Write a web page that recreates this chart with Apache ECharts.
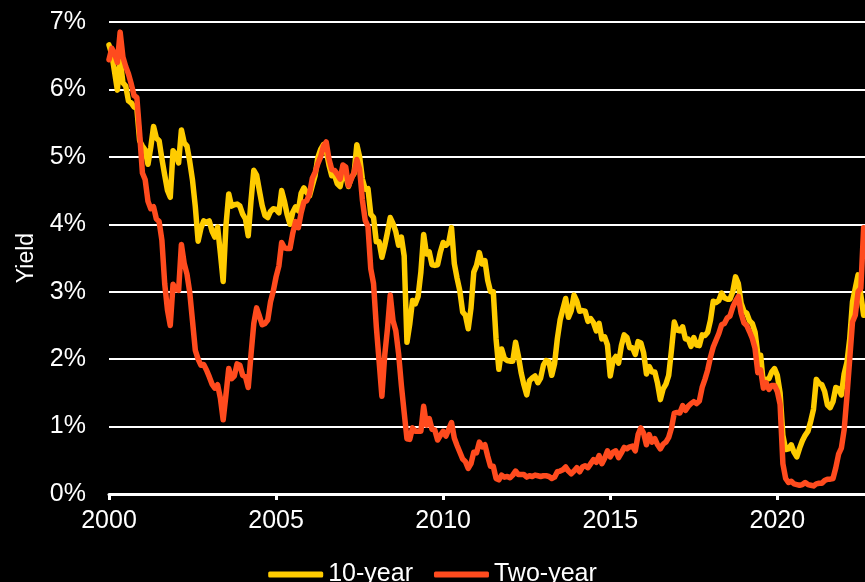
<!DOCTYPE html>
<html>
<head>
<meta charset="utf-8">
<title>Yield</title>
<script src="https://cdn.jsdelivr.net/npm/echarts@6.0.0/dist/echarts.min.js"></script>
<style>
  html, body { margin: 0; padding: 0; background: #000; }
  #main { width: 865px; height: 582px; }
</style>
</head>
<body>
<div id="main"></div>
<script>
// monthly yields (%), starting Jan 2000
var startYear = 2000;
var yearTicks = [2000, 2005, 2010, 2015, 2020];
var seriesNames = ['10-year', 'Two-year'];

var tenYear = [
  6.66, 6.52, 6.26, 5.99, 6.44, 6.10, 6.05, 5.83, 5.80, 5.74, 5.72, 5.24,
  5.16, 5.10, 4.89, 5.14, 5.45, 5.28, 5.24, 4.97, 4.73, 4.50, 4.40, 5.09,
  5.04, 4.91, 5.40, 5.21, 5.16, 4.93, 4.65, 4.26, 3.75, 3.94, 4.05, 4.03,
  4.05, 3.90, 3.81, 3.96, 3.57, 3.15, 3.98, 4.45, 4.27, 4.29, 4.30, 4.27,
  4.15, 4.08, 3.83, 4.35, 4.80, 4.73, 4.50, 4.28, 4.13, 4.10, 4.19, 4.23,
  4.22, 4.17, 4.50, 4.34, 4.14, 4.00, 4.18, 4.26, 4.20, 4.46, 4.54, 4.47,
  4.42, 4.57, 4.72, 4.99, 5.11, 5.18, 5.09, 4.88, 4.72, 4.73, 4.60, 4.56,
  4.76, 4.72, 4.56, 4.69, 4.75, 5.18, 5.00, 4.67, 4.52, 4.53, 4.15, 4.10,
  3.74, 3.74, 3.51, 3.68, 3.88, 4.10, 4.01, 3.89, 3.69, 3.81, 3.53, 2.25,
  2.52, 2.87, 2.82, 2.93, 3.29, 3.85, 3.56, 3.59, 3.40, 3.39, 3.40, 3.59,
  3.73, 3.69, 3.73, 3.95, 3.42, 3.20, 3.01, 2.70, 2.65, 2.45, 2.76, 3.29,
  3.39, 3.58, 3.41, 3.46, 3.17, 3.00, 3.00, 2.30, 1.85, 2.15, 2.01, 1.98,
  1.97, 1.97, 2.25, 2.05, 1.80, 1.62, 1.47, 1.68, 1.72, 1.75, 1.65, 1.72,
  1.91, 1.98, 1.96, 1.76, 1.93, 2.30, 2.58, 2.74, 2.90, 2.62, 2.72, 2.95,
  2.86, 2.71, 2.72, 2.71, 2.56, 2.60, 2.54, 2.42, 2.53, 2.30, 2.33, 2.21,
  1.75, 1.98, 2.04, 1.94, 2.20, 2.36, 2.32, 2.17, 2.17, 2.07, 2.26, 2.24,
  2.09, 1.78, 1.89, 1.81, 1.81, 1.64, 1.40, 1.56, 1.63, 1.76, 2.14, 2.55,
  2.43, 2.42, 2.48, 2.30, 2.30, 2.19, 2.32, 2.21, 2.20, 2.36, 2.35, 2.40,
  2.58, 2.86, 2.84, 2.87, 2.98, 2.91, 2.89, 2.89, 3.00, 3.22, 3.12, 2.83,
  2.71, 2.68, 2.57, 2.53, 2.40, 2.07, 2.06, 1.63, 1.70, 1.71, 1.81, 1.86,
  1.76, 1.50, 0.87, 0.66, 0.67, 0.73, 0.62, 0.55, 0.68, 0.79, 0.87, 0.93,
  1.08, 1.26, 1.70, 1.64, 1.62, 1.52, 1.32, 1.28, 1.37, 1.58, 1.56, 1.47,
  1.78, 1.95, 2.30, 2.85, 3.05, 3.25, 2.95, 2.65
];

var twoYear = [
  6.44, 6.61, 6.53, 6.40, 6.85, 6.48, 6.34, 6.23, 6.08, 5.91, 5.88, 5.35,
  4.76, 4.66, 4.34, 4.23, 4.26, 4.08, 4.04, 3.76, 3.12, 2.73, 2.50, 3.11,
  3.03, 3.02, 3.70, 3.42, 3.26, 2.99, 2.56, 2.13, 2.00, 1.91, 1.92, 1.84,
  1.74, 1.63, 1.57, 1.62, 1.42, 1.10, 1.47, 1.86, 1.71, 1.75, 1.93, 1.91,
  1.76, 1.74, 1.58, 2.07, 2.53, 2.76, 2.64, 2.51, 2.53, 2.58, 2.85, 3.01,
  3.22, 3.38, 3.73, 3.65, 3.64, 3.64, 3.87, 4.04, 3.95, 4.17, 4.33, 4.35,
  4.45, 4.68, 4.77, 4.90, 5.00, 5.16, 5.22, 4.97, 4.81, 4.80, 4.74, 4.67,
  4.88, 4.85, 4.57, 4.67, 4.77, 4.96, 4.82, 4.36, 4.06, 3.97, 3.34, 3.12,
  2.48, 1.97, 1.45, 2.05, 2.45, 2.95, 2.57, 2.42, 2.08, 1.61, 1.21, 0.82,
  0.81, 0.98, 0.93, 0.93, 0.93, 1.30, 1.02, 1.12, 0.96, 0.95, 0.80, 0.87,
  0.93, 0.86, 0.96, 1.06, 0.83, 0.72, 0.62, 0.52, 0.48, 0.38, 0.45, 0.62,
  0.61, 0.77, 0.70, 0.73, 0.56, 0.41, 0.41, 0.23, 0.21, 0.28, 0.25, 0.26,
  0.24, 0.28, 0.34, 0.29, 0.29, 0.29, 0.25, 0.27, 0.26, 0.28, 0.27, 0.26,
  0.27, 0.27, 0.26, 0.23, 0.25, 0.33, 0.34, 0.36, 0.40, 0.34, 0.30, 0.34,
  0.39, 0.33, 0.40, 0.42, 0.39, 0.45, 0.51, 0.47, 0.57, 0.45, 0.53, 0.64,
  0.55, 0.62, 0.64, 0.54, 0.61, 0.69, 0.67, 0.70, 0.71, 0.64, 0.88, 0.98,
  0.90, 0.73, 0.88, 0.77, 0.82, 0.73, 0.67, 0.74, 0.77, 0.84, 0.98, 1.20,
  1.21, 1.20, 1.31, 1.24, 1.30, 1.34, 1.37, 1.34, 1.38, 1.58, 1.70, 1.84,
  2.03, 2.18, 2.28, 2.38, 2.51, 2.53, 2.61, 2.64, 2.77, 2.86, 2.93, 2.68,
  2.54, 2.50, 2.41, 2.31, 2.16, 1.80, 1.84, 1.57, 1.65, 1.55, 1.61, 1.61,
  1.52, 1.33, 0.45, 0.23, 0.17, 0.19, 0.15, 0.14, 0.13, 0.14, 0.17, 0.14,
  0.13, 0.12, 0.15, 0.16, 0.16, 0.20, 0.22, 0.22, 0.23, 0.39, 0.59, 0.68,
  0.95, 1.45, 2.00, 2.55, 2.65, 3.00, 3.05, 3.95
];

// pair each value with its date as a fractional year
function toPoints(values) {
  return values.map(function (v, i) {
    return [startYear + i / 12, v];
  });
}

var font = 'Liberation Sans, Arial, sans-serif';

var option = {
  backgroundColor: '#000',
  animation: false,
  grid: { left: 109, right: 0, top: 22, bottom: 88 },
  legend: {
    data: seriesNames,
    left: 'center',
    top: 557,
    icon: 'roundRect',
    itemWidth: 55,
    itemHeight: 6,
    itemGap: 21,
    textStyle: { color: '#fff', fontSize: 25, fontFamily: font }
  },
  xAxis: {
    type: 'value',
    min: 2000,
    max: 2022.624,
    axisLine: { lineStyle: { color: '#fff', width: 3 } },
    axisTick: { customValues: yearTicks, length: 6, lineStyle: { color: '#fff', width: 3 } },
    axisLabel: {
      customValues: yearTicks,
      formatter: function (v) { return String(Math.round(v)); },
      color: '#fff',
      fontSize: 25,
      fontFamily: font,
      margin: 15
    },
    splitLine: { show: false }
  },
  yAxis: {
    type: 'value',
    min: 0,
    max: 7,
    interval: 1,
    name: 'Yield',
    nameLocation: 'middle',
    nameRotate: 90,
    nameGap: 71,
    nameTextStyle: { color: '#fff', fontSize: 23, fontFamily: font },
    axisLine: { show: false },
    axisTick: { show: false },
    axisLabel: {
      formatter: '{value}%',
      color: '#fff',
      fontSize: 25,
      fontFamily: font,
      margin: 23
    },
    splitLine: { lineStyle: { color: '#fff', width: 2 } }
  },
  series: [
    {
      name: seriesNames[0],
      type: 'line',
      data: toPoints(tenYear),
      showSymbol: false,
      color: '#ffcc00',
      lineStyle: { width: 5.5, color: '#ffcc00', join: 'round', cap: 'round' }
    },
    {
      name: seriesNames[1],
      type: 'line',
      data: toPoints(twoYear),
      showSymbol: false,
      color: '#ff4b1e',
      lineStyle: { width: 5.5, color: '#ff4b1e', join: 'round', cap: 'round' }
    }
  ]
};

var chart = echarts.init(document.getElementById('main'));
chart.setOption(option);
</script>
</body>
</html>
